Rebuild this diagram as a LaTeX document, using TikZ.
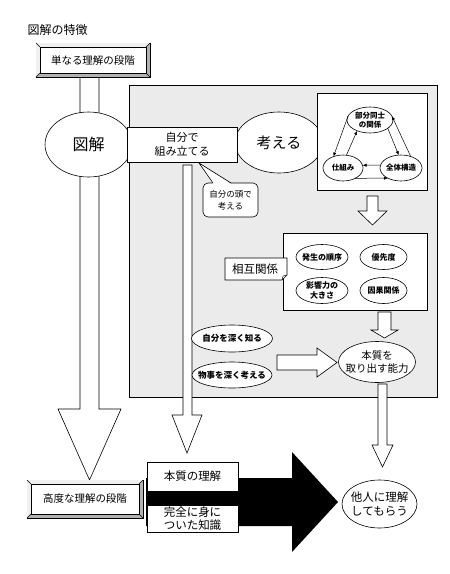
\documentclass[tikz,border=0pt]{standalone}
\usepackage{fontspec}
\setmainfont{Noto Sans CJK JP}
\usetikzlibrary{shapes.geometric,arrows.meta,calc}
\newcommand{\fs}[2]{\fontsize{#1}{#2}\selectfont}
\newcommand{\zw}[1]{\makebox[0pt]{#1}}
\newcommand{\bevelframe}[4]{%
  \draw[line width=0.9pt, fill=gray!60] (#1,#2) rectangle (#3,#4);
  \fill[gray!12] (#1,#2) -- (#3,#2) -- (#3-4,#2+4) -- (#1+4,#2+4) -- (#1+4,#4-4) -- (#1,#4) -- cycle;
  \draw[line width=0.5pt, fill=white] (#1+4,#2+4) rectangle (#3-4,#4-4);
  \draw[line width=0.4pt] (#1,#2) -- (#1+4,#2+4) (#3,#2) -- (#3-4,#2+4) (#1,#4) -- (#1+4,#4-4) (#3,#4) -- (#3-4,#4-4);
}
\begin{document}
\begin{tikzpicture}[x=1pt,y=-1pt, line width=0.6pt,
  ell/.style={ellipse, draw, fill=white, inner sep=0pt, outer sep=0pt, align=center},
  box/.style={rectangle, draw, fill=white, inner sep=0pt, align=center},
  blk/.style={draw, fill=white, line join=miter},
  tipline/.style={-{Latex[length=4pt,width=3.2pt]}, line width=0.5pt}]
\useasboundingbox (0,0) rectangle (450,574);
\fill[white] (0,0) rectangle (450,574);

\node[anchor=west, font=\fs{12}{14}] (title) at (24,30) {図解の特徴};

% gray region
\draw[fill=gray!16] (129,85) rectangle (437,397);

% big left arrow
\draw[blk] (80,77) -- (99,77) -- (99,409) -- (121,409) -- (89.5,480) -- (58,409) -- (80,409) -- cycle;

\bevelframe{36}{43}{150}{77}
\node[font=\fs{10.5}{12}] (simple) at (93,61) {単なる理解の段階};

\node[ell, minimum width=87, minimum height=65, font=\fs{16}{18}] (zukai) at (88.5,144.5) {\zw{図解}};
\node[ell, minimum width=88, minimum height=61, font=\fs{15}{18}] (kangaeru) at (279,142.5) {\zw{考える}};
\node[box, minimum width=110, minimum height=35, font=\fs{11}{14}] (kumitate) at (182,144.5) {自分で\\組み立てる};

% thin down arrow
\draw[blk] (183,165) -- (192,165) -- (192,415) -- (202,415) -- (187,453) -- (172,415) -- (183,415) -- cycle;

% callout
\node[box, rounded corners=5pt, minimum width=55, minimum height=34, font=\fs{8.5}{12}] (atama) at (230.5,200) {自分の頭で\\考える};
\coordinate (ptr) at (199,163);
\fill[white] (213,183.8) -- (ptr) -- (231,183.8) -- cycle;
\draw (213,183) -- (ptr) -- (231,183);

% top right box
\draw[fill=white] (317,93) rectangle (427,190);
\node[ell, minimum width=46, minimum height=26, font=\fs{7.5}{9}\bfseries] (bubun) at (370,120) {\zw{部分同士}\\\zw{の関係}};
\node[ell, minimum width=40, minimum height=26, font=\fs{7.5}{9}\bfseries] (shikumi) at (343,168) {\zw{仕組み}};
\node[ell, minimum width=42, minimum height=26, font=\fs{7.5}{9}\bfseries] (zentai) at (401,168) {\zw{全体構造}};
\draw[tipline] (shikumi.75) -- (bubun.220);
\draw[tipline] (bubun.170) -- (shikumi.130);
\draw[tipline] (bubun.-25) -- (zentai.100);
\draw[tipline] (zentai.50) -- (bubun.10);
\draw[tipline] (zentai.172) -- (shikumi.8);
\draw[tipline] (shikumi.-40) -- (zentai.-142);

% hollow arrow 1
\draw[blk] (367,196) -- (378,196) -- (378,211) -- (387,211) -- (372.5,225) -- (358,211) -- (367,211) -- cycle;

% middle box
\draw[fill=white] (283,233) rectangle (427,310);
\node[ell, minimum width=52, minimum height=25, font=\fs{8}{10}\bfseries] (hassei) at (322,257) {\zw{発生の順序}};
\node[ell, minimum width=47, minimum height=25, font=\fs{8}{10}\bfseries] (yusen) at (383.5,257) {\zw{優先度}};
\node[ell, minimum width=52, minimum height=26, font=\fs{8}{10}\bfseries] (eikyo) at (322,290.5) {\zw{影響力の}\\\zw{大きさ}};
\node[ell, minimum width=47, minimum height=26, font=\fs{8}{10}\bfseries] (inga) at (383.5,290.5) {\zw{因果関係}};

% label 相互関係
\draw[fill=white, line join=miter] (225,258) -- (287,258) -- (287,275) -- (282,280) -- (225,280) -- cycle;
\draw[line width=0.4pt] (282,280) -- (283,276) -- (287,275);
\node[font=\fs{11.5}{13}] (sogo) at (255,269) {相互関係};

% hollow arrow 2
\draw[blk] (378,312) -- (391,312) -- (391,330) -- (398,330) -- (384.5,338) -- (371,330) -- (378,330) -- cycle;

% hollow right arrow
\draw[blk] (277,355) -- (317,355) -- (317,348) -- (337,362.5) -- (317,377) -- (317,370) -- (277,370) -- cycle;

\node[ell, minimum width=81, minimum height=27, font=\fs{8.5}{10}\bfseries] (jibun) at (232,338.5) {\zw{自分を深く知る}};
\node[ell, minimum width=80, minimum height=26, font=\fs{8.5}{10}\bfseries] (monogoto) at (232,375) {\zw{物事を深く考える}};

% hollow arrow 3
\draw[blk] (378,384) -- (387,384) -- (387,445) -- (393,445) -- (382.5,467) -- (372,445) -- (378,445) -- cycle;
\node[ell, minimum width=77, minimum height=41, font=\fs{10.5}{13}] (honshitsu) at (377,362) {\zw{本質を}\\\zw{取り出す能力}};

% bottom
\fill[black] (146,478) -- (292,478) -- (292,452) -- (338,502) -- (292,552) -- (292,526) -- (146,526) -- cycle;
\node[box, minimum width=91, minimum height=29, font=\fs{11.5}{13}] (rikai) at (192.5,476.5) {本質の理解};
\node[box, minimum width=91, minimum height=27, font=\fs{11.5}{13}] (kanzen) at (192.5,518.5) {完全に身に\\ついた知識};
\bevelframe{27}{480}{143}{518}
\node[font=\fs{10.5}{12}] (kodo) at (85,499) {高度な理解の段階};
\node[ell, minimum width=75, minimum height=48, font=\fs{11.5}{14}] (tanin) at (379.5,504) {\zw{他人に理解}\\\zw{してもらう}};
\end{tikzpicture}
\end{document}
